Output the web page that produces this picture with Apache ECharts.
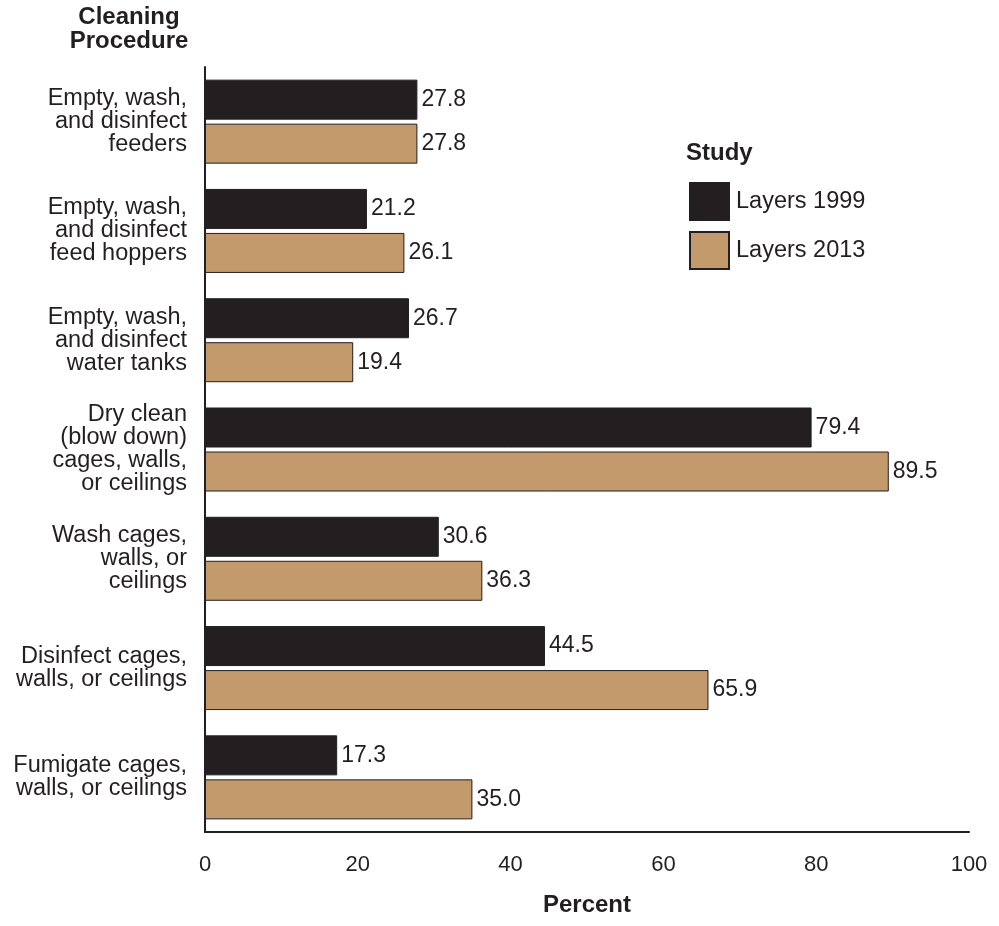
<!DOCTYPE html>
<html>
<head>
<meta charset="utf-8">
<script src="https://cdn.jsdelivr.net/npm/echarts@6/dist/echarts.min.js"></script>
<style>
  html, body { margin: 0; padding: 0; background: #fff; overflow: hidden; }
  #chart { width: 999px; height: 926px; }
</style>
</head>
<body>
<div id="chart"></div>
<script>
// Cleaning procedures (top to bottom)
const categories = [
  'Empty, wash,\nand disinfect\nfeeders',
  'Empty, wash,\nand disinfect\nfeed hoppers',
  'Empty, wash,\nand disinfect\nwater tanks',
  'Dry clean\n(blow down)\ncages, walls,\nor ceilings',
  'Wash cages,\nwalls, or\nceilings',
  'Disinfect cages,\nwalls, or ceilings',
  'Fumigate cages,\nwalls, or ceilings'
];
const layers1999 = [27.8, 21.2, 26.7, 79.4, 30.6, 44.5, 17.3];
const layers2013 = [27.8, 26.1, 19.4, 89.5, 36.3, 65.9, 35.0];
const seriesNames = ['Layers 1999', 'Layers 2013'];
const xTicks = [0, 20, 40, 60, 80, 100];

const FONT = '"Liberation Sans", Arial, Helvetica, sans-serif';
const INK = '#231f20';
const TAN = '#c39a6b';

const chart = echarts.init(document.getElementById('chart'), null, { renderer: 'canvas' });

const valueLabel = {
  show: true,
  position: 'right',
  distance: 4,
  color: INK,
  fontFamily: FONT,
  fontSize: 23,
  formatter: p => p.value.toFixed(1)
};

chart.setOption({
  animation: false,
  backgroundColor: '#fff',
  textStyle: { fontFamily: FONT, color: INK },
  grid: {
    left: 205, width: 764, top: 67, height: 765,
    containLabel: false, outerBoundsMode: 'none'
  },
  legend: {
    orient: 'vertical',
    left: 684,
    top: 177,
    itemWidth: 39,
    itemHeight: 37,
    itemGap: 10,
    icon: 'rect',
    textStyle: { fontFamily: FONT, fontSize: 23.5, color: INK, padding: [0, 0, 0, 2] },
    data: seriesNames
  },
  graphic: [
    {
      type: 'text', x: 129, y: 5,
      style: {
        text: 'Cleaning\nProcedure', fill: INK, align: 'center', verticalAlign: 'top',
        font: 'bold 24px ' + FONT, lineHeight: 24
      }
    },
    {
      type: 'text', x: 686, y: 141,
      style: { text: 'Study', fill: INK, verticalAlign: 'top', font: 'bold 24px ' + FONT }
    }
  ],
  xAxis: {
    type: 'value',
    min: xTicks[0],
    max: xTicks[xTicks.length - 1],
    interval: 20,
    name: 'Percent',
    nameLocation: 'middle',
    nameGap: 61,
    nameTextStyle: { fontFamily: FONT, fontSize: 24, fontWeight: 'bold', color: INK },
    axisLine: { show: true, lineStyle: { color: INK, width: 2 } },
    axisTick: { show: false },
    splitLine: { show: false },
    axisLabel: { fontFamily: FONT, fontSize: 22, color: INK, margin: 22 }
  },
  yAxis: {
    type: 'category',
    inverse: true,
    data: categories,
    axisLine: { show: true, lineStyle: { color: INK, width: 2 } },
    axisTick: { show: false },
    axisLabel: {
      fontFamily: FONT, fontSize: 23.5, color: INK, margin: 18,
      lineHeight: 23, align: 'right'
    }
  },
  series: [
    {
      name: seriesNames[0],
      type: 'bar',
      data: layers1999,
      barWidth: 40,
      barGap: '10%',
      itemStyle: { color: INK, borderColor: INK, borderWidth: 1 },
      label: valueLabel
    },
    {
      name: seriesNames[1],
      type: 'bar',
      data: layers2013,
      barWidth: 40,
      barGap: '10%',
      itemStyle: { color: TAN, borderColor: INK, borderWidth: 1 },
      label: valueLabel
    }
  ]
});
</script>
</body>
</html>
